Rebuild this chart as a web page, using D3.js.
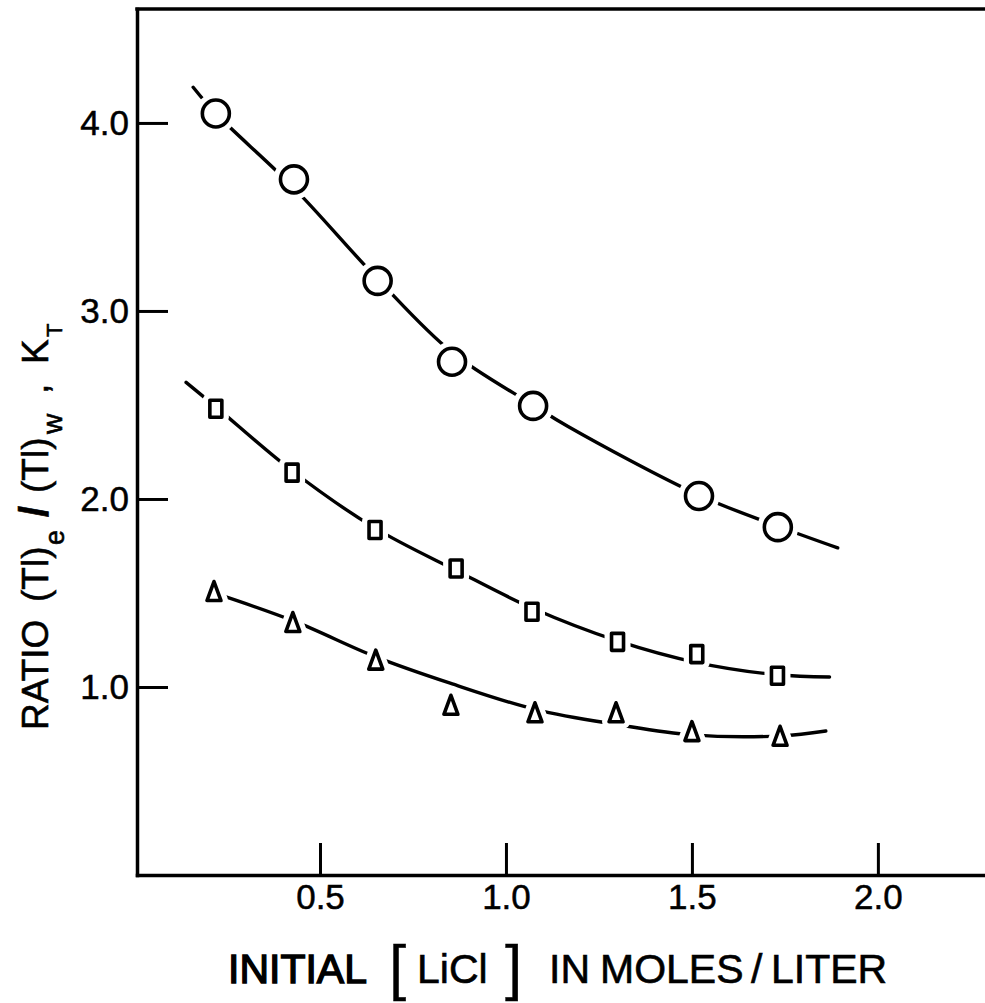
<!DOCTYPE html>
<html><head><meta charset="utf-8">
<script src="https://cdn.jsdelivr.net/npm/d3@7"></script>
<style>body{margin:0;background:#fff} svg{display:block}</style>
</head><body>
<svg id="c" width="985" height="1003"></svg>
<script>
// ---- data ----
const xTicks = [0.5, 1.0, 1.5, 2.0];
const yTicks = [1.0, 2.0, 3.0, 4.0];

const circleX = [0.22, 0.43, 0.655, 0.855, 1.073, 1.519, 1.731];
const circleY = [4.05, 3.70, 3.16, 2.73, 2.495, 2.016, 1.85];
const squareX = [0.22, 0.425, 0.648, 0.866, 1.07, 1.30, 1.513, 1.73];
const squareY = [2.48, 2.14, 1.835, 1.63, 1.40, 1.24, 1.175, 1.06];
const triX = [0.215, 0.427, 0.65, 0.852, 1.078, 1.296, 1.50, 1.737];
const triY = [1.505, 1.34, 1.14, 0.90, 0.86, 0.86, 0.76, 0.735];

// hand-drawn fitted curves
const circleFitX = [0.159, 0.22, 0.427, 0.655, 0.855, 1.073, 1.167, 1.519, 1.731, 1.892];
const circleFitY = [4.19, 4.05, 3.66, 3.17, 2.78, 2.50, 2.385, 2.02, 1.855, 1.74];
const squareFitX = [0.14, 0.22, 0.425, 0.648, 0.866, 1.07, 1.30, 1.513, 1.73, 1.87];
const squareFitY = [2.62, 2.49, 2.15, 1.845, 1.62, 1.42, 1.245, 1.13, 1.065, 1.053];
const triFitX = [0.215, 0.43, 0.65, 0.85, 1.08, 1.3, 1.5, 1.74, 1.86];
const triFitY = [1.50, 1.35, 1.16, 1.02, 0.88, 0.80, 0.745, 0.74, 0.766];

const xDomain = [0.008, 2.288];
const yDomain = [0, 4.606];

// ---- drawing ----
const svg = d3.select('#c');
const FONT = '"Liberation Sans", Arial, sans-serif';
const x = d3.scaleLinear().domain(xDomain).range([137, 985]);
const y = d3.scaleLinear().domain(yDomain).range([875, 9]);

// top frame line
svg.append('line')
  .attr('x1', x(xDomain[0])).attr('x2', x(xDomain[1]))
  .attr('y1', y(yDomain[1])).attr('y2', y(yDomain[1]))
  .attr('stroke', '#000').attr('stroke-width', 3.5).attr('stroke-linecap', 'square');

const gx = svg.append('g').attr('transform', `translate(0,${y(0)})`)
  .call(d3.axisBottom(x).tickValues(xTicks).tickSize(-32).tickSizeOuter(0)
    .tickPadding(9).tickFormat(d3.format('.1f')));
const gy = svg.append('g').attr('transform', `translate(${x(xDomain[0])},0)`)
  .call(d3.axisLeft(y).tickValues(yTicks).tickSize(-31).tickSizeOuter(0)
    .tickPadding(8).tickFormat(d3.format('.1f')));
[gx, gy].forEach(g => {
  g.select('.domain').attr('stroke', '#000').attr('stroke-width', 3.5).attr('stroke-linecap', 'square');
  g.selectAll('.tick line').attr('stroke', '#000').attr('stroke-width', 3);
  g.selectAll('.tick text').attr('fill', '#000').attr('font-family', FONT).attr('font-size', 35)
    .attr('stroke', '#000').attr('stroke-width', 0.5);
});

// curves
const line = d3.line().x(d => x(d[0])).y(d => y(d[1])).curve(d3.curveCatmullRom.alpha(0.5));
const fits = [
  d3.zip(circleFitX, circleFitY),
  d3.zip(squareFitX, squareFitY),
  d3.zip(triFitX, triFitY)
];
svg.append('g').selectAll('path').data(fits).join('path')
  .attr('d', line).attr('fill', 'none').attr('stroke', '#000')
  .attr('stroke-width', 3.4).attr('stroke-linecap', 'round');

// markers
const circles = d3.zip(circleX, circleY);
const squares = d3.zip(squareX, squareY);
const tris = d3.zip(triX, triY);
const triPath = 'M0,-10.5L7,8.5L-7,8.5Z';

function drawMarkers(halo) {
  const g = svg.append('g')
    .attr('stroke', halo ? '#fff' : '#000')
    .attr('stroke-width', halo ? 14 : 3.6)
    .attr('stroke-linejoin', 'round');
  g.selectAll('circle').data(circles).join('circle')
    .attr('cx', d => x(d[0])).attr('cy', d => y(d[1])).attr('r', 13.5)
    .attr('fill', '#fff');
  g.selectAll('rect').data(squares).join('rect')
    .attr('x', d => x(d[0]) - 6).attr('y', d => y(d[1]) - 8.5)
    .attr('width', 12).attr('height', 17).attr('fill', '#fff');
  g.selectAll('path').data(tris).join('path')
    .attr('transform', d => `translate(${x(d[0])},${y(d[1])})`)
    .attr('d', triPath).attr('fill', '#fff');
}
drawMarkers(true);
drawMarkers(false);

// x axis title
const xt = svg.append('text').attr('font-family', FONT).attr('fill', '#000').attr('font-size', 41)
  .attr('stroke', '#000').attr('stroke-width', 0.6);
xt.append('tspan').attr('x', 228).attr('y', 983).attr('stroke-width', 1.4).text('INITIAL');
xt.append('tspan').attr('x', 389).attr('y', 988).attr('font-size', 62).attr('stroke-width', 0.3).text('[');
xt.append('tspan').attr('x', 417).attr('y', 983).text('LiCl');
xt.append('tspan').attr('x', 505).attr('y', 988).attr('font-size', 62).attr('stroke-width', 0.3).text(']');
xt.append('tspan').attr('x', 549).attr('y', 983).text('IN');
xt.append('tspan').attr('x', 600).attr('y', 983).text('MOLES');
xt.append('tspan').attr('x', 751).attr('y', 983).text('/');
xt.append('tspan').attr('x', 771).attr('y', 983).text('LITER');

// y axis title (rotated; local x = -pageY)
const yt = svg.append('text').attr('transform', 'translate(48,0) rotate(-90)')
  .attr('font-family', FONT).attr('fill', '#000').attr('font-size', 37)
  .attr('stroke', '#000').attr('stroke-width', 0.6);
yt.append('tspan').attr('x', -730).attr('y', 0).text('RATIO');
yt.append('tspan').attr('x', -602).attr('y', 0).text('(Tl)');
yt.append('tspan').attr('x', -545).attr('y', 16).attr('font-size', 27).text('e');
yt.append('tspan').attr('x', -517).attr('y', 0).attr('font-weight', 'bold').attr('font-size', 40).text('/');
yt.append('tspan').attr('x', -493).attr('y', 0).text('(Tl)');
yt.append('tspan').attr('x', -434).attr('y', 14).attr('font-size', 28).text('w');
yt.append('tspan').attr('x', -394).attr('y', 0).text(',');
yt.append('tspan').attr('x', -364).attr('y', 0).text('K');
yt.append('tspan').attr('x', -337).attr('y', 14).attr('font-size', 22).text('T');
</script>
</body></html>
